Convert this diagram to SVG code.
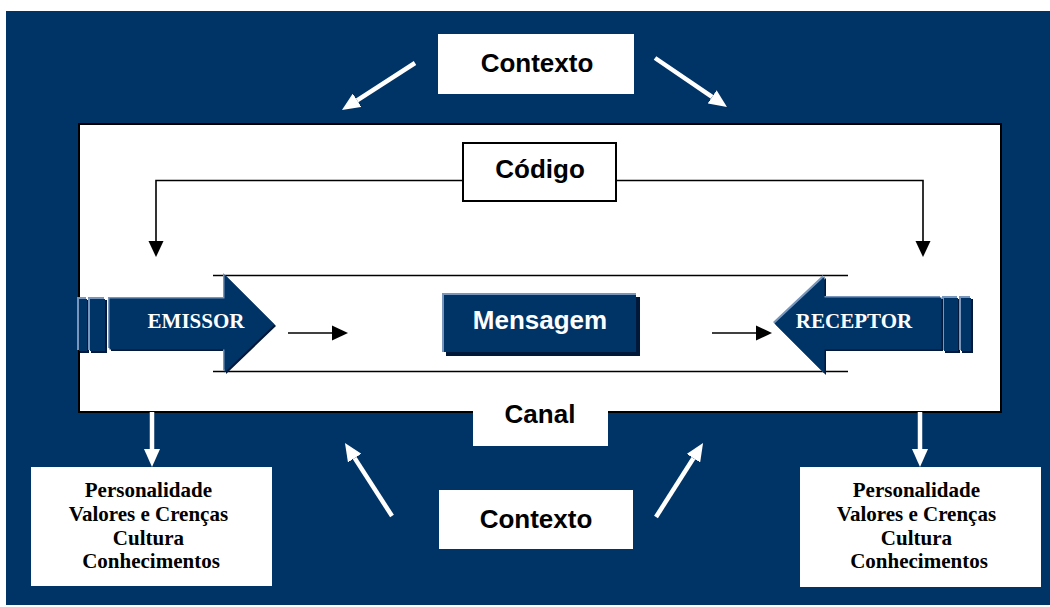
<svg xmlns="http://www.w3.org/2000/svg" width="1050" height="607" viewBox="0 0 1050 607">
<defs>
<style>
.sans{font-family:"Liberation Sans",Arial,sans-serif;font-weight:bold;text-anchor:middle}
.serif{font-family:"Liberation Serif","Times New Roman",serif;font-weight:bold;text-anchor:middle}
.wbox{fill:#ffffff}
.bline{stroke:#000;stroke-width:1.6;fill:none}
.warr{stroke:#fff;stroke-width:4.5;fill:none}
.light{fill:#7896bc}
.navy{fill:#003366}
.shadow{fill:#00183a}
</style>
<marker id="wh" markerUnits="userSpaceOnUse" markerWidth="18" markerHeight="16" viewBox="0 -8 18 16" refX="0" refY="0" orient="auto">
<path d="M0,-8 L18,0 L0,8 z" fill="#fff"/>
</marker>
<marker id="bh" markerUnits="userSpaceOnUse" markerWidth="16" markerHeight="16" viewBox="0 -8 16 16" refX="0" refY="0" orient="auto">
<path d="M0,-7.5 L16,0 L0,7.5 z" fill="#000"/>
</marker>
<polygon id="emShape" points="108,297 223,297 223,273 273,323 223,371 223,348 108,348"/>
<polygon id="reShape" points="940,296 823,296 823,275 773,322 823,372 823,348 940,348"/>
</defs>

<rect x="6" y="11" width="1044" height="594" fill="#003366"/>

<g id="main-box">
<rect x="79" y="124" width="922" height="288" fill="#fff" stroke="#000" stroke-width="2"/>
</g>

<g id="canal">
<rect x="473" y="409" width="135" height="37" class="wbox"/>
<text x="540" y="423" font-size="26" class="sans" fill="#000">Canal</text>
</g>

<g id="contexto-top">
<rect x="438" y="34" width="196" height="60" class="wbox"/>
<text x="537" y="72" font-size="26" class="sans" fill="#000">Contexto</text>
</g>

<g id="contexto-bottom">
<rect x="439" y="490" width="194" height="59" class="wbox"/>
<text x="536" y="528" font-size="26" class="sans" fill="#000">Contexto</text>
</g>

<g id="codigo">
<rect x="463" y="143" width="153" height="58" fill="#fff" stroke="#000" stroke-width="2"/>
<text x="540" y="178" font-size="26" class="sans" fill="#000">Código</text>
</g>

<g id="canal-lines">
<line x1="213" y1="275.5" x2="848" y2="275.5" stroke="#000" stroke-width="1.6"/>
<line x1="213" y1="371.5" x2="848" y2="371.5" stroke="#000" stroke-width="1.6"/>
</g>

<g id="emissor">
<rect x="80" y="300" width="9" height="53" class="shadow"/>
<rect x="91" y="300" width="16" height="53" class="shadow"/>
<rect x="77" y="297" width="9" height="53" class="light"/>
<rect x="79" y="299" width="8" height="52" class="navy"/>
<rect x="88" y="297" width="16" height="53" class="light"/>
<rect x="90" y="299" width="15" height="52" class="navy"/>
<use href="#emShape" class="shadow" transform="translate(3,3)"/>
<use href="#emShape" class="light"/>
<use href="#emShape" class="navy" transform="translate(1.5,1.5)"/>
<text x="196" y="328" font-size="21" class="serif" fill="#fff">EMISSOR</text>
</g>

<g id="receptor">
<rect x="945" y="299" width="15" height="54" class="shadow"/>
<rect x="962" y="299" width="11" height="54" class="shadow"/>
<rect x="942" y="296" width="15" height="54" class="light"/>
<rect x="944" y="298" width="14" height="53" class="navy"/>
<rect x="959" y="296" width="11" height="54" class="light"/>
<rect x="961" y="298" width="10" height="53" class="navy"/>
<use href="#reShape" class="shadow" transform="translate(3,3)"/>
<use href="#reShape" class="light"/>
<use href="#reShape" class="navy" transform="translate(1.5,1.5)"/>
<text x="854" y="328" font-size="21" class="serif" fill="#fff">RECEPTOR</text>
</g>

<g id="mensagem">
<rect x="446" y="297" width="194" height="59" class="shadow"/>
<rect x="442" y="293" width="194" height="59" class="light"/>
<rect x="444" y="295" width="192" height="57" class="navy"/>
<text x="540" y="329" font-size="26" class="sans" fill="#fff">Mensagem</text>
</g>

<g id="info-left">
<rect x="31" y="467" width="241" height="119" class="wbox"/>
<text class="serif" font-size="21" fill="#000">
<tspan x="151" y="497">Personalidade</tspan>
<tspan x="151" y="521">Valores e Crenças</tspan>
<tspan x="151" y="545">Cultura</tspan>
<tspan x="151" y="568">Conhecimentos</tspan>
</text>
</g>

<g id="info-right">
<rect x="800" y="467" width="241" height="120" class="wbox"/>
<text class="serif" font-size="21" fill="#000">
<tspan x="919" y="497">Personalidade</tspan>
<tspan x="919" y="521">Valores e Crenças</tspan>
<tspan x="919" y="545">Cultura</tspan>
<tspan x="919" y="568">Conhecimentos</tspan>
</text>
</g>

<g id="connectors">
<line class="warr" x1="415" y1="63" x2="357.1" y2="100.3" marker-end="url(#wh)"/>
<line class="warr" x1="655" y1="58" x2="712.1" y2="96.9" marker-end="url(#wh)"/>
<line class="warr" x1="392" y1="516" x2="354.7" y2="458.1" marker-end="url(#wh)"/>
<line class="warr" x1="656" y1="517" x2="693.4" y2="458.2" marker-end="url(#wh)"/>
<line class="warr" x1="152" y1="412" x2="152" y2="449" marker-end="url(#wh)"/>
<line class="warr" x1="920" y1="412" x2="920" y2="449" marker-end="url(#wh)"/>
<polyline class="bline" points="463,180.5 156,180.5 156,241" marker-end="url(#bh)"/>
<polyline class="bline" points="616,180.5 923,180.5 923,241" marker-end="url(#bh)"/>
<line class="bline" x1="288" y1="333" x2="332" y2="333" marker-end="url(#bh)"/>
<line class="bline" x1="712" y1="333" x2="756" y2="333" marker-end="url(#bh)"/>
</g>
</svg>
